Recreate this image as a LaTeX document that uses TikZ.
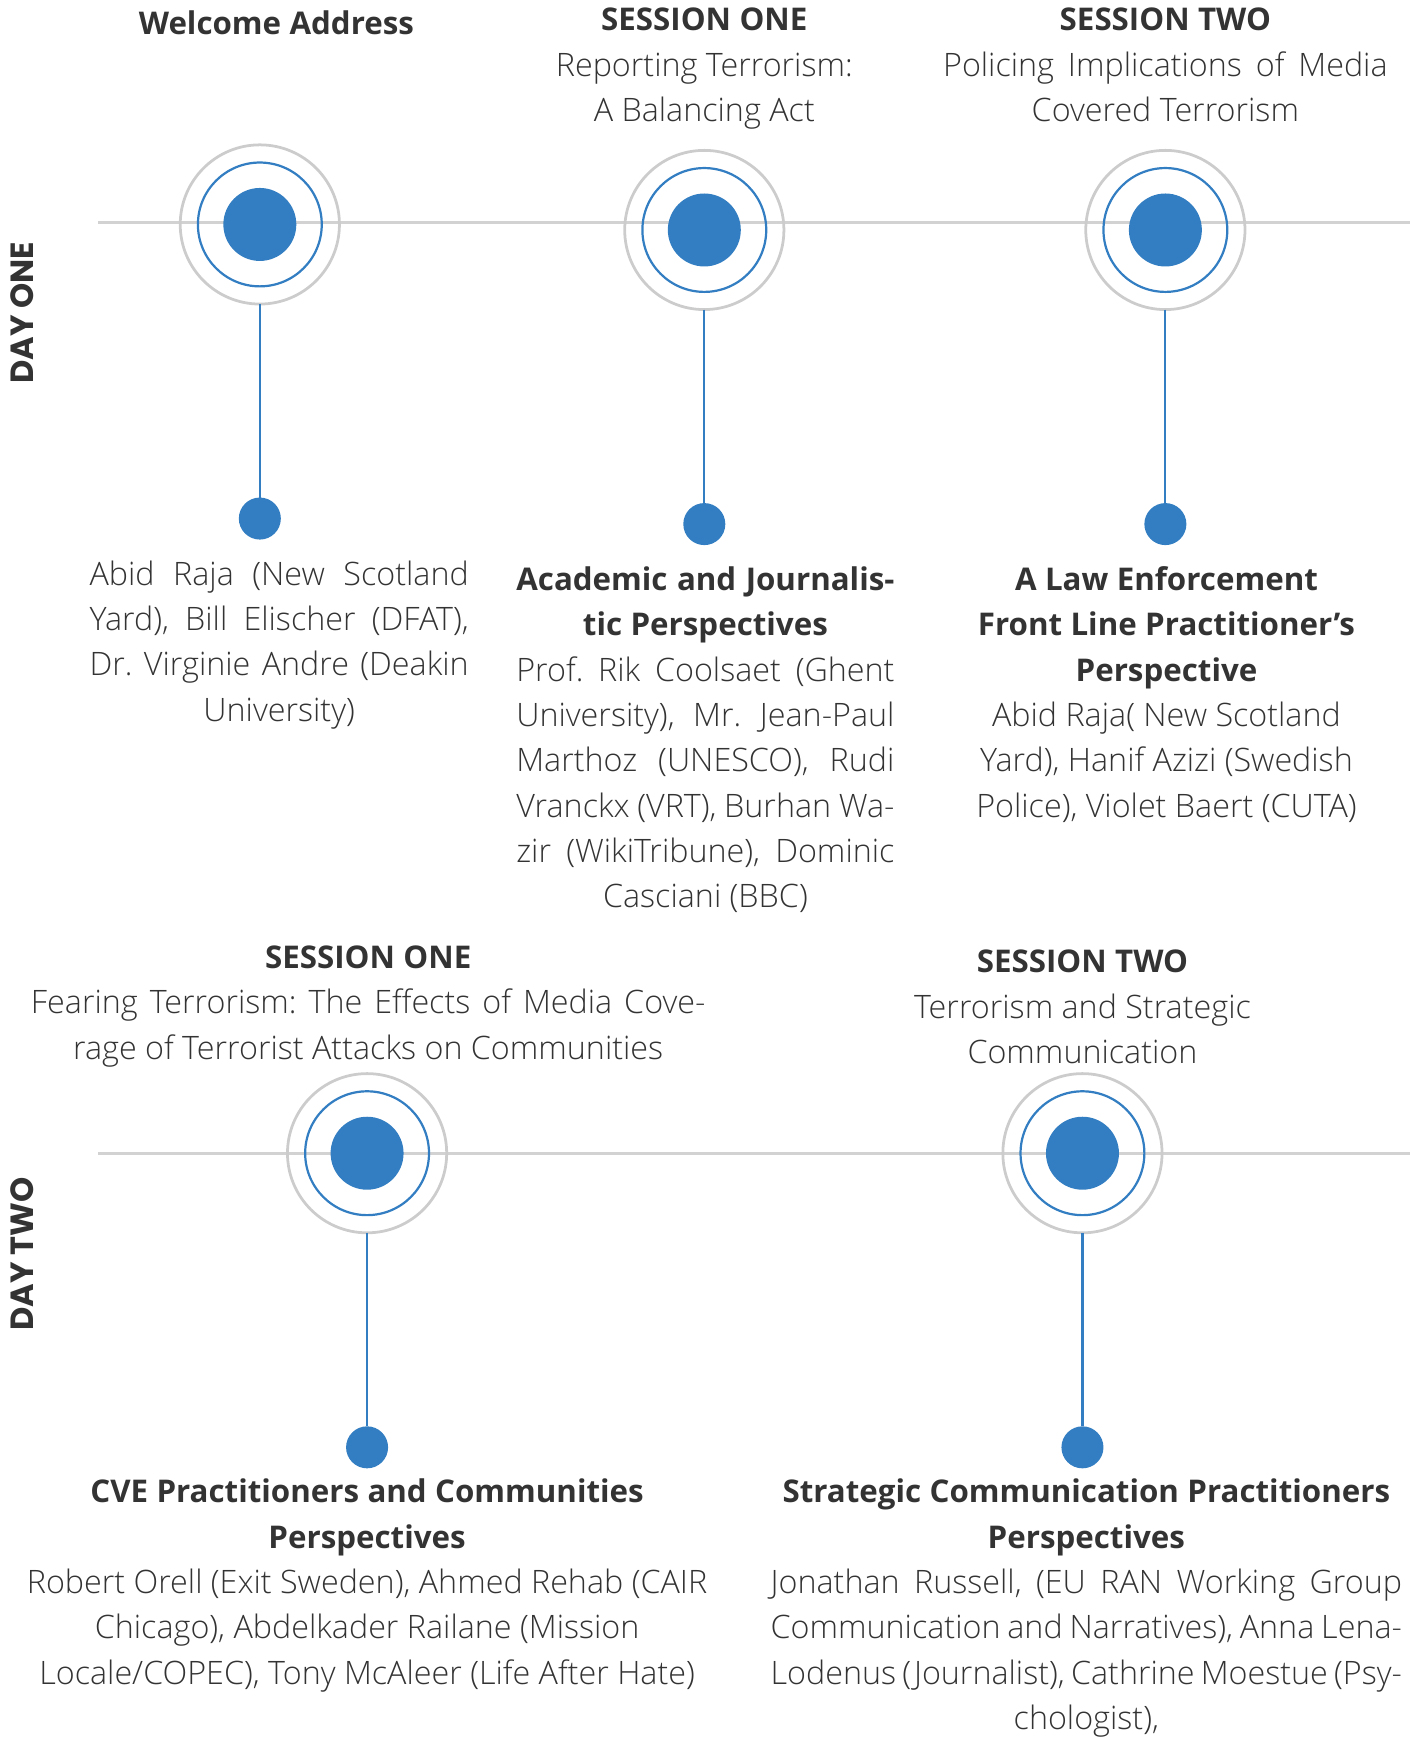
\documentclass[tikz,border=0pt]{standalone}
\usepackage{fontspec}
\IfFontExistsTF{Open Sans Light}
  {\IfFontExistsTF{Open Sans SemiBold}
    {\setmainfont{Open Sans Light}[BoldFont={Open Sans SemiBold}]}
    {\setmainfont{Open Sans Light}[BoldFont={Open Sans Bold}]}}
  {\setmainfont{Open Sans}}
\newfontfamily\dayfamily{Poppins}
\usetikzlibrary{positioning}

\definecolor{ink}{HTML}{333333}
\definecolor{dotblue}{HTML}{337EC2}
\definecolor{ringgray}{HTML}{CCCCCC}
\definecolor{linegray}{HTML}{D2D2D2}

\newcommand{\bodyfont}{\fontsize{29.2pt}{41pt}\selectfont}
\newcommand{\headfont}{\fontsize{28.3pt}{41pt}\selectfont\bfseries}
\newcommand{\jline}[1]{\makebox[\hsize][s]{\spaceskip=0pt\xspaceskip=0pt #1}}

\tikzstyle{lineS} = [draw=linegray, line width=2.5pt]
\tikzstyle{hubS} = [circle, draw=ringgray, line width=2.5pt, minimum size=144pt, inner sep=0pt, outer sep=0pt]
\tikzstyle{ringS} = [circle, draw=dotblue, line width=2pt, minimum size=112pt, inner sep=0pt]
\tikzstyle{coreS} = [circle, fill=dotblue, minimum size=66pt, inner sep=0pt]
\tikzstyle{dotS} = [circle, fill=dotblue, minimum size=38pt, inner sep=0pt, outer sep=0pt]
\tikzstyle{stemS} = [draw=dotblue, line width=2pt]
\tikzstyle{textS} = [text width=400pt, align=center, inner sep=0pt, text=ink, font=\bodyfont,
  execute at begin node={\frenchspacing\spaceskip=\fontdimen2\font\relax\noindent\rule{0pt}{28pt}},
  execute at end node={\rule[-12pt]{0pt}{12pt}}]
\tikzstyle{dayS} = [font={\dayfamily\bfseries\fontsize{29pt}{35pt}\selectfont}, text=ink, inner sep=0pt, rotate=90]

\begin{document}
\begin{tikzpicture}[x=1pt, y=-1pt]
    \useasboundingbox (0,0) rectangle (1275,1571);

    % day one
    \coordinate (l1a) at (89,201);
    \coordinate (l1b) at (1275,201);
    \draw [lineS] (l1a) -- (l1b);
    \node [dayS] (d1) at (20,283) {DAY ONE};

    \node [hubS] (h1) at (235,203) {};
    \node [ringS] (r1) at (h1) {};
    \node [coreS] (c1) at (h1) {};
    \node [hubS] (h2) at (637,208) {};
    \node [ringS] (r2) at (h2) {};
    \node [coreS] (c2) at (h2) {};
    \node [hubS] (h3) at (1054,208) {};
    \node [ringS] (r3) at (h3) {};
    \node [coreS] (c3) at (h3) {};

    \node [dotS, below=175pt of h1] (p1) {};
    \node [dotS, below=175pt of h2] (p2) {};
    \node [dotS, below=175pt of h3] (p3) {};
    \draw [stemS] (h1) -- (p1);
    \draw [stemS] (h2) -- (p2);
    \draw [stemS] (h3) -- (p3);

    \node [textS, above=88pt of h1, xshift=15pt] (s1) {{\headfont Welcome Address}};
    \node [textS, above=14pt of h2] (s2) {{\headfont SESSION ONE}\\ Reporting Terrorism:\\ A Balancing Act};
    \node [textS, text width=402pt, above=14pt of h3] (s3) {{\headfont SESSION TWO}\\ \jline{Policing Implications of Media}\\ Covered Terrorism};

    \node [textS, text width=343pt, below=13pt of p1, xshift=17.5pt] (t1) {\jline{Abid Raja (New Scotland}\\
      \jline{Yard), Bill Elischer (DFAT),}\\ \jline{Dr. Virginie Andre (Deakin}\\ University)};
    \node [textS, text width=342pt, below=13pt of p2, xshift=1pt] (t2) {{\headfont\jline{Academic and Journalis-}}\\
      {\headfont tic Perspectives}\\ \jline{Prof. Rik Coolsaet (Ghent}\\ \jline{University), Mr. Jean-Paul}\\
      \jline{Marthoz (UNESCO), Rudi}\\ \jline{Vranckx (VRT), Burhan Wa-}\\ \jline{zir (WikiTribune), Dominic}\\ Casciani (BBC)};
    \node [textS, below=13pt of p3, xshift=1pt] (t3) {{\headfont A Law Enforcement}\\ {\headfont Front Line Practitioner’s}\\
      {\headfont Perspective}\\ Abid Raja( New Scotland\\ Yard), Hanif Azizi (Swedish\\ Police), Violet Baert (CUTA)};

    % day two
    \coordinate (l2a) at (89,1043);
    \coordinate (l2b) at (1275,1043);
    \draw [lineS] (l2a) -- (l2b);
    \node [dayS] (d2) at (20,1134) {DAY TWO};

    \node [hubS] (h4) at (332,1043) {};
    \node [ringS] (r4) at (h4) {};
    \node [coreS] (c4) at (h4) {};
    \node [hubS] (h5) at (979,1043) {};
    \node [ringS] (r5) at (h5) {};
    \node [coreS] (c5) at (h5) {};

    \node [dotS, below=175pt of h4] (p4) {};
    \node [dotS, below=175pt of h5] (p5) {};
    \draw [stemS] (h4) -- (p4);
    \draw [stemS] (h5) -- (p5);

    \node [textS, text width=610pt, above=1pt of h4, xshift=1pt] (s4) {{\headfont SESSION ONE}\\
      \jline{Fearing Terrorism: The Effects of Media Cove-}\\ rage of Terrorist Attacks on Communities};
    \node [textS, above=-3pt of h5] (s5) {{\headfont SESSION TWO}\\ Terrorism and Strategic\\ Communication};

    \node [textS, text width=640pt, below=3pt of p4] (t4) {{\headfont CVE Practitioners and Communities}\\ {\headfont Perspectives}\\
      Robert Orell (Exit Sweden), Ahmed Rehab (CAIR\\ Chicago), Abdelkader Railane (Mission\\ Locale/COPEC), Tony McAleer (Life After Hate)};
    \node [textS, text width=571pt, below=3pt of p5, xshift=3.5pt] (t5) {{\headfont Strategic Communication Practitioners}\\ {\headfont Perspectives}\\
      \jline{Jonathan Russell, (EU RAN Working Group}\\ \jline{Communication and Narratives), Anna Lena-}\\
      \jline{Lodenus (Journalist), Cathrine Moestue (Psy-}\\ chologist),};
  \end{tikzpicture}
\end{document}
